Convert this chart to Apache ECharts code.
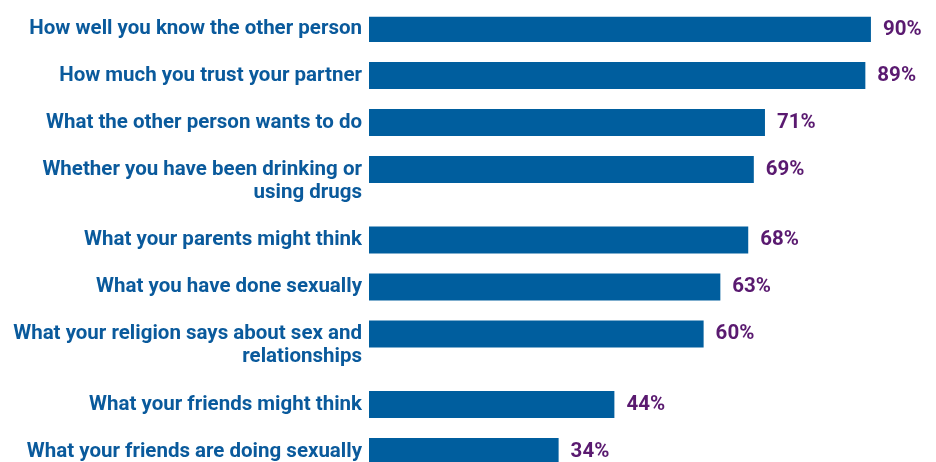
<!DOCTYPE html>
<html>
<head>
<meta charset="utf-8">
<script src="https://cdn.jsdelivr.net/npm/echarts@6/dist/echarts.min.js"></script>
<style>
html,body{margin:0;padding:0;background:#fff;}
#chart{width:936px;height:462px;}
</style>
</head>
<body>
<div id="chart"></div>
<script>
var categories = [
  "How well you know the other person",
  "How much you trust your partner",
  "What the other person wants to do",
  "Whether you have been drinking or\nusing drugs",
  "What your parents might think",
  "What you have done sexually",
  "What your religion says about sex and\nrelationships",
  "What your friends might think",
  "What your friends are doing sexually"
];
var values = [90, 89, 71, 69, 68, 63, 60, 44, 34];

// Two-line labels take one and a half rows, single-line labels one row.
var axisCats = [];
var barData = [];
categories.forEach(function (c, i) {
  var slots = c.indexOf("\n") >= 0 ? 3 : 2;
  axisCats.push(c);
  barData.push(values[i]);
  for (var k = 1; k < slots; k++) { axisCats.push(""); barData.push("-"); }
});

var chart = echarts.init(document.getElementById("chart"));
chart.setOption({
  animation: false,
  backgroundColor: "#ffffff",
  grid: { left: 369, width: 557.7, top: 16.75, height: 470, containLabel: false, outerBoundsMode: "none" },
  xAxis: { type: "value", min: 0, max: 100, show: false },
  yAxis: {
    type: "category",
    inverse: true,
    data: axisCats,
    axisLine: { show: false },
    axisTick: { show: false },
    splitLine: { show: false },
    axisLabel: {
      interval: 0,
      margin: 7,
      color: "#0a5a9c",
      fontFamily: "Roboto",
      fontWeight: "bold",
      fontSize: 20.5,
      lineHeight: 23,
      align: "right",
      formatter: function (v) { return v.indexOf("\n") >= 0 ? "\n" + v : v; }
    }
  },
  series: [{
    type: "bar",
    data: barData,
    barWidth: 27,
    itemStyle: { color: "#005e9e" },
    label: {
      show: true,
      position: "right",
      distance: 12,
      formatter: "{c}%",
      color: "#5a1a70",
      fontFamily: "Roboto",
      fontWeight: "bold",
      fontSize: 20.5
    }
  }]
});
</script>
</body>
</html>
